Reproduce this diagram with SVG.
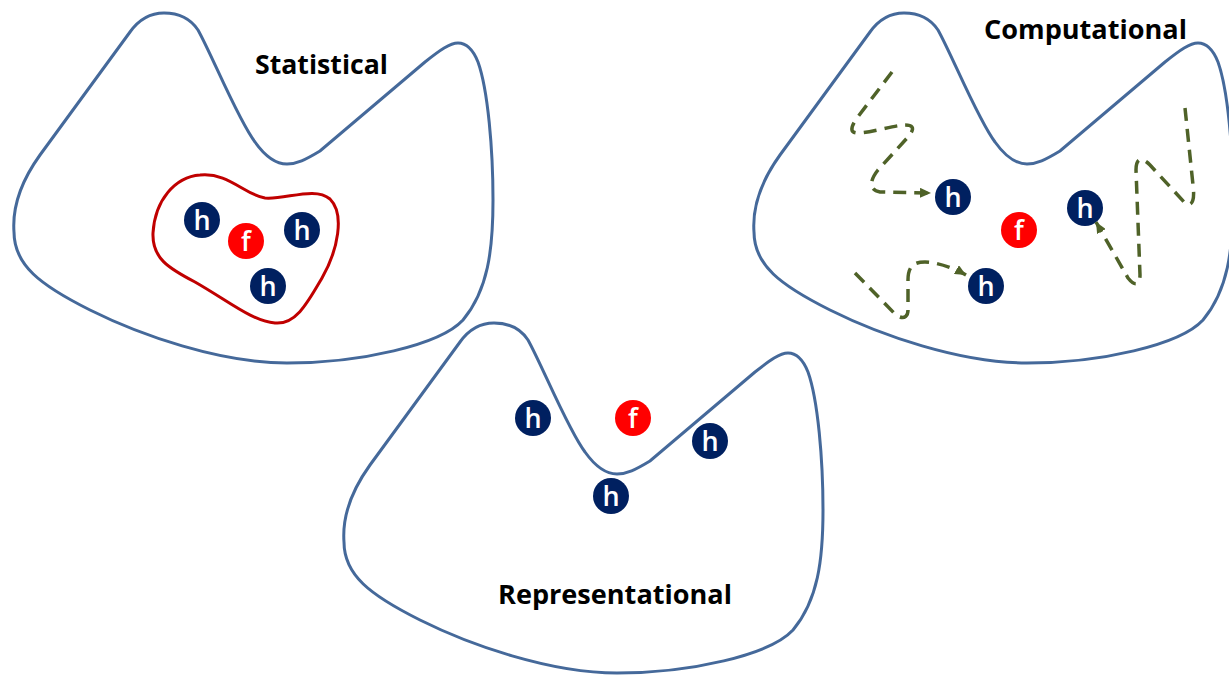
<svg xmlns="http://www.w3.org/2000/svg" xmlns:xlink="http://www.w3.org/1999/xlink" width="1229" height="675" viewBox="0 0 1229 675">
<style>
.blob{fill:none;stroke:#45699a;stroke-width:3}
.inner{fill:none;stroke:#c00000;stroke-width:3}
.hc{fill:#002060}
.fc{fill:#ff0000}
.lt{fill:#ffffff;font-family:"Open Sans","Noto Sans",sans-serif;font-weight:600;font-size:27px;text-anchor:middle}
.title{fill:#000000;font-family:"Open Sans","Noto Sans",sans-serif;font-weight:bold;font-size:27px}
.walk{fill:none;stroke:#4f6228;stroke-width:3.5;stroke-dasharray:13 8;marker-end:url(#ah)}
</style>
<defs>
<path id="blobShape" d="M 14,232 C 12,205 22,180 40,155 L 130,32 C 140,18 152,13 164,13 C 178,13 190,18 198,30 C 212,55 238,120 255,142 C 265,156 275,164 287,164 C 297,164 305,160 320,151 L 425,62 C 440,50 450,43 458,43 C 468,43 474,52 478,62 C 488,90 493,150 493,200 C 493,250 488,290 463,320 C 440,345 360,363 287,363 C 220,363 140,335 90,310 C 40,285 14,265 14,232 Z"/>
<marker id="ah" markerUnits="userSpaceOnUse" markerWidth="12" markerHeight="10" refX="11" refY="5" orient="auto">
<path d="M0,0 L11,5 L0,10 Z" fill="#4f6228"/>
</marker>
</defs>

<g id="statistical">
<use xlink:href="#blobShape" class="blob"/>
<path class="inner" d="M 200,175 C 228,172 245,195 265,198 C 285,200 315,186 330,199 C 345,214 338,250 322,278 C 308,302 296,325 275,323 C 252,321 230,302 195,282 C 168,268 152,258 153,233 C 155,200 175,177 200,175 Z"/>
<text class="title" x="255" y="74" textLength="133" lengthAdjust="spacingAndGlyphs">Statistical</text>
<g id="s-h1"><circle class="hc" cx="202" cy="220" r="18"/><text class="lt" x="202" y="230">h</text></g>
<g id="s-f"><circle class="fc" cx="246" cy="241" r="18"/><text class="lt" x="246" y="251">f</text></g>
<g id="s-h2"><circle class="hc" cx="302" cy="230" r="18"/><text class="lt" x="302" y="240">h</text></g>
<g id="s-h3"><circle class="hc" cx="268" cy="286" r="18"/><text class="lt" x="268" y="296">h</text></g>
</g>

<g id="computational">
<use xlink:href="#blobShape" class="blob" transform="translate(740,0)"/>
<text class="title" x="984" y="39" textLength="203" lengthAdjust="spacingAndGlyphs">Computational</text>
<g id="c-h1"><circle class="hc" cx="953" cy="197" r="18"/><text class="lt" x="953" y="207">h</text></g>
<g id="c-f"><circle class="fc" cx="1019" cy="230" r="18"/><text class="lt" x="1019" y="240">f</text></g>
<g id="c-h2"><circle class="hc" cx="1085" cy="208" r="18"/><text class="lt" x="1085" y="218">h</text></g>
<g id="c-h3"><circle class="hc" cx="986" cy="286" r="18"/><text class="lt" x="986" y="296">h</text></g>
</g>

<g id="representational">
<use xlink:href="#blobShape" class="blob" transform="translate(330,310)"/>
<text class="title" x="498" y="604" textLength="234" lengthAdjust="spacingAndGlyphs">Representational</text>
<g id="r-h1"><circle class="hc" cx="533" cy="418" r="18"/><text class="lt" x="533" y="428">h</text></g>
<g id="r-f"><circle class="fc" cx="633" cy="418" r="18"/><text class="lt" x="633" y="428">f</text></g>
<g id="r-h2"><circle class="hc" cx="710" cy="441" r="18"/><text class="lt" x="710" y="451">h</text></g>
<g id="r-h3"><circle class="hc" cx="611" cy="496" r="18"/><text class="lt" x="611" y="506">h</text></g>
</g>

<g id="connectors">
<path class="walk" d="M 892,72 L 857,118 C 850,128 850,133 858,133 C 870,133 895,125 905,125 C 915,125 914,130 908,137 L 878,170 C 870,180 868,190 880,192 L 931,193"/>
<path class="walk" d="M 855,273 L 895,314 C 902,320 908,318 908,310 L 908,280 C 908,265 915,262 925,262 C 935,262 952,267 966,275"/>
<path class="walk" d="M 1185,108 L 1193,185 C 1195,200 1192,208 1185,203 L 1150,165 C 1140,155 1136,160 1136,170 L 1140,275 C 1140,285 1135,287 1128,278 L 1096,222"/>
</g>
</svg>
